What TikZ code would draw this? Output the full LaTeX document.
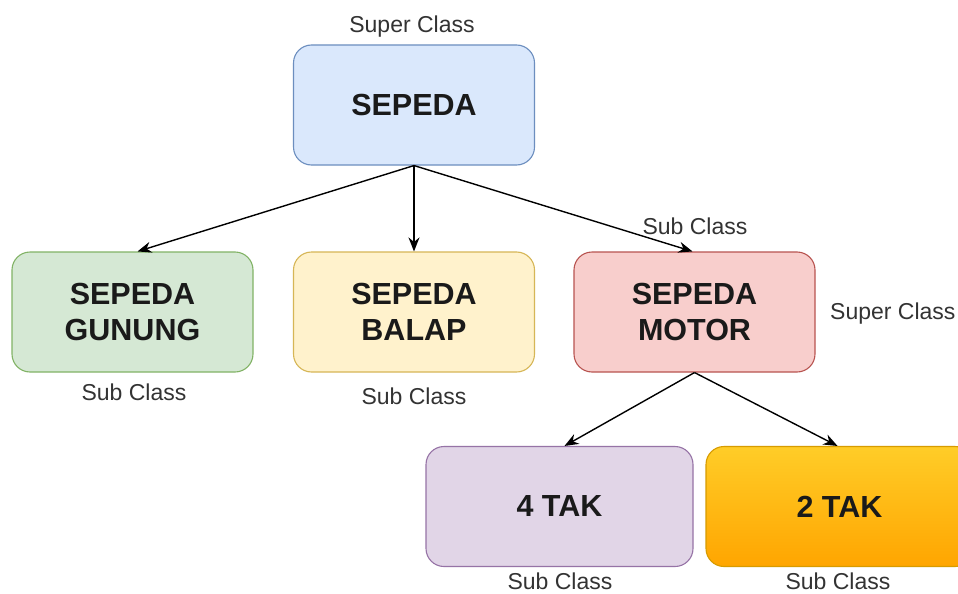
\documentclass[tikz,border=0pt]{standalone}
\usepackage{fontspec}
\setmainfont{Liberation Sans}
\usetikzlibrary{arrows.meta,calc}
\definecolor{blueF}{HTML}{DAE8FC}\definecolor{blueS}{HTML}{6C8EBF}
\definecolor{greenF}{HTML}{D5E8D4}\definecolor{greenS}{HTML}{82B366}
\definecolor{yellowF}{HTML}{FFF2CC}\definecolor{yellowS}{HTML}{D6B656}
\definecolor{redF}{HTML}{F8CECC}\definecolor{redS}{HTML}{B85450}
\definecolor{purpleF}{HTML}{E1D5E7}\definecolor{purpleS}{HTML}{9673A6}
\definecolor{orangeT}{HTML}{FFCD28}\definecolor{orangeB}{HTML}{FFA500}\definecolor{orangeS}{HTML}{D79B00}
\definecolor{txt}{HTML}{1A1A1A}\definecolor{lbl}{HTML}{333333}
\tikzset{
  box/.style={rounded corners=18pt, line width=1.1pt, minimum width=241pt, minimum height=120pt,
    align=center, text=txt, font=\fontsize{30.5}{36}\selectfont\bfseries, inner sep=0pt},
  lab/.style={text=lbl, font=\fontsize{23}{27}\selectfont, inner sep=0pt},
  arr/.style={line width=1.4pt, -{Stealth[length=14pt,width=11pt]}}
}
\begin{document}
\begin{tikzpicture}[x=1pt,y=-1pt]
\useasboundingbox (0,0) rectangle (958,594);
\clip (0,0) rectangle (958,594);
\fill[white] (0,0) rectangle (958,594);
\node[box, fill=blueF, draw=blueS] (sepeda) at (414,105) {SEPEDA};
\node[box, fill=greenF, draw=greenS] (gunung) at (132.5,312) {SEPEDA\\GUNUNG};
\node[box, fill=yellowF, draw=yellowS] (balap) at (414,312) {SEPEDA\\BALAP};
\node[box, fill=redF, draw=redS] (motor) at (694.5,312) {SEPEDA\\MOTOR};
\node[box, minimum width=267pt, fill=purpleF, draw=purpleS] (tak4) at (559.5,506.5) {4 TAK};
\node[box, minimum width=267pt, top color=orangeT, bottom color=orangeB, draw=orangeS] (tak2) at (839.5,506.5) {2 TAK};
\draw[arr] (sepeda.south) -- ($(gunung.north)+(5,0)$);
\draw[arr] (sepeda.south) -- (balap.north);
\draw[arr] (sepeda.south) -- ($(motor.north)+(-2,0)$);
\draw[arr] (motor.south) -- ($(tak4.north)+(5,0)$);
\draw[arr] (motor.south) -- ($(tak2.north)+(-2,0)$);
\node[lab] (l1) at (412,27) {Super Class};
\node[lab] (l2) at (695,226) {Sub Class};
\node[lab, anchor=west] (l3) at (830,314) {Super Class};
\node[lab] (l4) at (134,392) {Sub Class};
\node[lab] (l5) at (414,396) {Sub Class};
\node[lab] (l6) at (560,581) {Sub Class};
\node[lab] (l7) at (838,581) {Sub Class};
\end{tikzpicture}
\end{document}
